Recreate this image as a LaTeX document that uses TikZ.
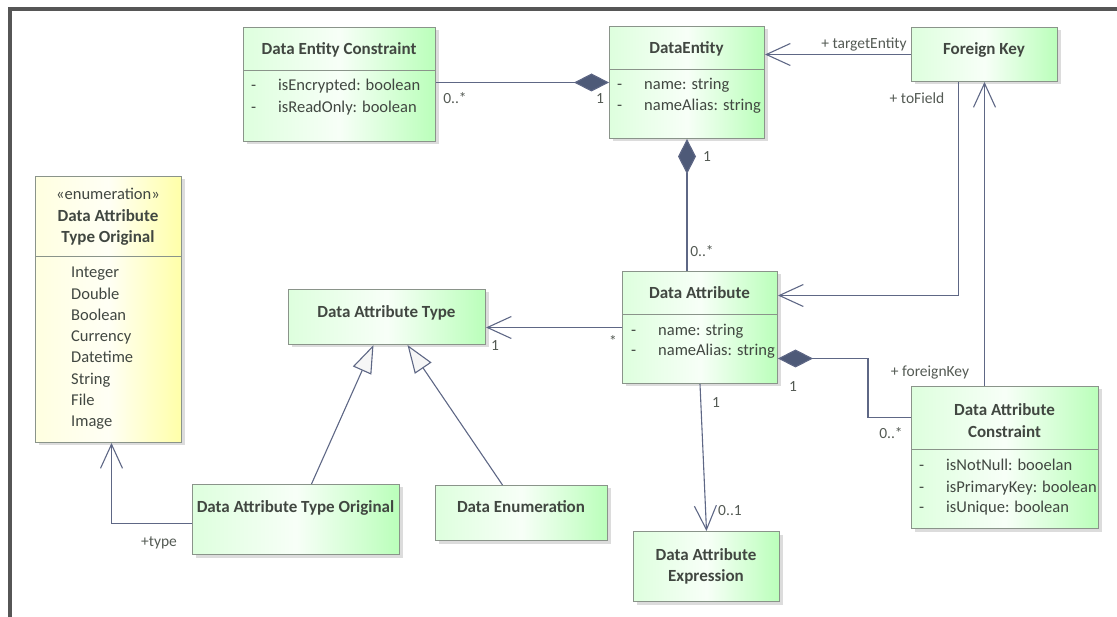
\documentclass[tikz,border=0pt]{standalone}
\usepackage{fontspec}
\setmainfont{Carlito}
\usetikzlibrary{arrows.meta, shadows}
\definecolor{umlline}{HTML}{5E6785}
\definecolor{umldark}{HTML}{4E5A78}
\definecolor{umlborder}{HTML}{8A948A}
\definecolor{umltext}{HTML}{414741}
\definecolor{framegray}{HTML}{565656}
\tikzset{
cls/.style={draw=umlborder, line width=1pt, anchor=north west, left color=green!13, right color=green!27, middle color=green!3,
  drop shadow={shadow xshift=3pt, shadow yshift=-3pt, fill=black!30, opacity=0.45}}, % every class box
enm/.style={cls, left color=yellow!12, right color=yellow!34, middle color=yellow!4}, % the enumeration box
ttl/.style={font=\fontsize{17}{21.5}\selectfont\bfseries, text=umltext, align=center, inner sep=0pt}, % multi-line names
hd/.style={ttl, text height=12pt, text depth=4pt}, % one-line names
attr/.style={font=\fontsize{16.5}{20}\selectfont, text=umltext, anchor=west, inner sep=0pt, text height=11.5pt, text depth=4pt},
lit/.style={attr},
mult/.style={font=\fontsize{15.5}{18}\selectfont, text=umltext!90, inner sep=0pt, text height=11pt, text depth=3.5pt},
divider/.style={draw=umlborder, line width=1pt},
assoc/.style={draw=umlline, line width=1.1pt, -{Straight Barb[length=24pt, width=22pt]}}, % navigable end
comp/.style={draw=umlline, line width=1.1pt, -{Diamond[length=35pt, width=18pt, fill=umldark]}}, % composition
gen/.style={draw=umlline, line width=1.1pt, -{Triangle[open, fill=gray!7, length=28pt, width=20pt]}}, % generalization
}
\newcommand{\vis}{\makebox[27pt][l]{-}}

\begin{document}
\begin{tikzpicture}[x=1pt, y=-1pt]
  \useasboundingbox (0,0) rectangle (1117,617);
  \draw[framegray, line width=4pt] (10,617) -- (10,9) -- (1117,9);

  % classes
  \node[cls, minimum width=192pt, minimum height=114pt] (dec) at (243,27) {};
  \node[cls, minimum width=155pt, minimum height=112pt] (ent) at (609,26) {};
  \node[cls, minimum width=146pt, minimum height=54pt] (fk) at (911,27) {};
  \node[enm, minimum width=146pt, minimum height=266pt] (enum) at (35,176) {};
  \node[cls, minimum width=197pt, minimum height=55pt] (dat) at (288,289) {};
  \node[cls, minimum width=155pt, minimum height=112pt] (att) at (622,271) {};
  \node[cls, minimum width=187pt, minimum height=142pt] (dac) at (911,386) {};
  \node[cls, minimum width=146pt, minimum height=70pt] (dae) at (633,531) {};
  \node[cls, minimum width=207pt, minimum height=70pt] (dato) at (192,484) {};
  \node[cls, minimum width=172pt, minimum height=55pt] (den) at (435,485) {};

  \draw[divider] (dec.west |- 0,71) -- (dec.east |- 0,71);
  \draw[divider] (ent.west |- 0,70) -- (ent.east |- 0,70);
  \draw[divider] (enum.west |- 0,257) -- (enum.east |- 0,257);
  \draw[divider] (att.west |- 0,315) -- (att.east |- 0,315);
  \draw[divider] (dac.west |- 0,450) -- (dac.east |- 0,450);

  % class texts
  \node[hd] (dec-t) at (339,51) {Data Entity Constraint};
  \node[attr] (dec-a1) at (251,87) {\vis isEncrypted: boolean};
  \node[attr] (dec-a2) at (251,109) {\vis isReadOnly: boolean};
  \node[hd] (ent-t) at (686.5,50) {DataEntity};
  \node[attr] (ent-a1) at (617,86) {\vis name: string};
  \node[attr] (ent-a2) at (617,107) {\vis nameAlias: string};
  \node[hd] (fk-t) at (984,51) {Foreign Key};
  \node[ttl] (enum-t) at (108,217) {{\mdseries\fontsize{16.5}{21.5}\selectfont «enumeration»}\\Data Attribute\\Type Original};
  \foreach \lit [count=\i] in {Integer,Double,Boolean,Currency,Datetime,String,File,Image}
    \node[lit] (lit\i) at (71,{274+21.3*(\i-1)}) {\lit};
  \node[hd] (dat-t) at (386.5,314) {Data Attribute Type};
  \node[hd] (att-t) at (699.5,295) {Data Attribute};
  \node[attr] (att-a1) at (631,332) {\vis name: string};
  \node[attr] (att-a2) at (631,352) {\vis nameAlias: string};
  \node[ttl] (dac-t) at (1004.5,420.5) {Data Attribute\\Constraint};
  \node[attr] (dac-a1) at (919,467) {\vis isNotNull: booelan};
  \node[attr] (dac-a2) at (919,489) {\vis isPrimaryKey: boolean};
  \node[attr] (dac-a3) at (919,509) {\vis isUnique: boolean};
  \node[ttl] (dae-t) at (706,566.5) {Data Attribute\\Expression};
  \node[hd] (dato-t) at (295.5,508) {Data Attribute Type Original};
  \node[hd] (den-t) at (521,508) {Data Enumeration};

  % relations
  \draw[comp] (dec.east |- ent.west) -- (ent.west);
  \draw[comp] (att.north -| ent.south) -- (ent.south);
  \draw[assoc] (fk.west) -- (fk.west -| ent.east);
  \draw[assoc] ([xshift=-26pt]fk.south) |- ([yshift=32pt]att.east);
  \draw[assoc] (dac.north -| fk.south) -- (fk.south);
  \draw[comp] ([yshift=40pt]dac.west) -- ++(-43,0) |- ([yshift=-31pt]att.east);
  \draw[assoc] (att.west) -- (att.west -| dat.east);
  \draw[assoc] (att.south) -- (dae.north);
  \draw[gen] ([xshift=15.5pt]dato.north) -- ([xshift=-13.5pt]dat.south);
  \draw[gen] ([xshift=-19pt]den.north) -- ([xshift=20.5pt]dat.south);
  \draw[assoc] ([yshift=-4pt]dato.west) -| ([xshift=3pt]enum.south);

  % multiplicities and roles
  \node[mult] (m1) at (455,100) {0..*};
  \node[mult] (m2) at (600,100) {1};
  \node[mult] (m3) at (707,158) {1};
  \node[mult] (m4) at (702,253) {0..*};
  \node[mult] (r1) at (864,45) {+ targetEntity};
  \node[mult] (r2) at (917,100) {+ toField};
  \node[mult] (r3) at (930,373) {+ foreignKey};
  \node[mult] (m5) at (793,388) {1};
  \node[mult] (m6) at (891,435) {0..*};
  \node[mult] (m7) at (495,347) {1};
  \node[mult] (m8) at (613,343) {*};
  \node[mult] (m9) at (716,404) {1};
  \node[mult] (m10) at (730,512) {0..1};
  \node[mult] (r4) at (159,543) {+type};
\end{tikzpicture}
\end{document}
